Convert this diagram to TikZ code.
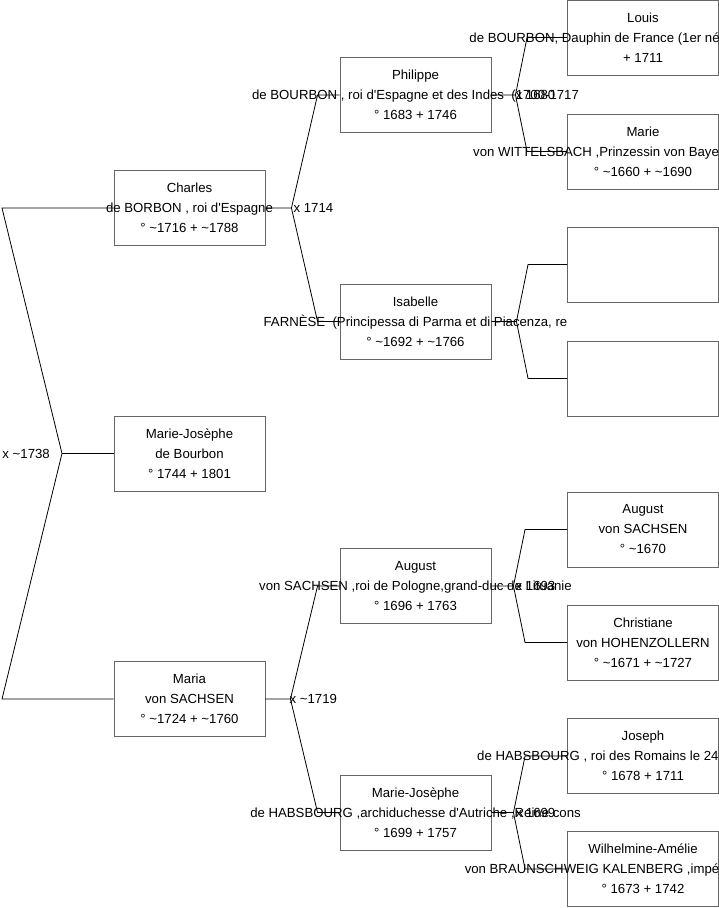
\documentclass[tikz,border=0pt]{standalone}
\usepackage{fontspec}
\setmainfont{Liberation Sans}[Ligatures=TeXOff]
\usetikzlibrary{positioning,calc}
\newcommand{\tline}[1]{\makebox[0pt]{#1}}
\newcommand{\ca}{\textasciitilde}

\begin{document}
\begin{tikzpicture}[x=1pt,y=-1pt,
  pers/.style={draw=black!60,line width=0.9pt,minimum width=151pt,minimum height=75pt,
    inner sep=0pt,align=center,font=\fontsize{13.2}{20}\selectfont},
  mar/.style={anchor=west,inner sep=0pt,font=\fontsize{13.2}{16}\selectfont},
  ed/.style={line width=0.8pt}]
  \useasboundingbox (0,0) rectangle (719,908);
  \node[pers] (charles) at (189.5,208) {\tline{Charles}\\\tline{de BORBON , roi d'Espagne}\\\tline{° \ca1716 + \ca1788}};
  \node[pers] (mjb) at (189.5,453.5) {\tline{Marie-Josèphe}\\\tline{de Bourbon}\\\tline{° 1744 + 1801}};
  \node[pers] (maria) at (189.5,699) {\tline{Maria}\\\tline{von SACHSEN}\\\tline{° \ca1724 + \ca1760}};
  \node[pers] (philippe) at (415.5,95) {\tline{Philippe}\\\tline{de BOURBON , roi d'Espagne et des Indes\ \ (1700-1717}\\\tline{° 1683 + 1746}};
  \node[pers] (isabelle) at (415.5,321.5) {\tline{Isabelle}\\\tline{FARNÈSE\ \ (Principessa di Parma et di Piacenza, re}\\\tline{° \ca1692 + \ca1766}};
  \node[pers] (august) at (415.5,586) {\tline{August}\\\tline{von SACHSEN ,roi de Pologne,grand-duc de Lituanie}\\\tline{° 1696 + 1763}};
  \node[pers] (mjh) at (415.5,812.5) {\tline{Marie-Josèphe}\\\tline{de HABSBOURG ,archiduchesse d'Autriche ,Reine cons}\\\tline{° 1699 + 1757}};
  \node[pers] (louis) at (643,37.5) {\tline{Louis}\\\tline{de BOURBON, Dauphin de France (1er né du roi Louis XIV}\\\tline{+ 1711}};
  \node[pers] (marie) at (643,151.5) {\tline{Marie}\\\tline{von WITTELSBACH ,Prinzessin von Bayern ,Dauphine de}\\\tline{° \ca1660 + \ca1690}};
  \node[pers] (e1) at (643,264.5) {};
  \node[pers] (e2) at (643,378.5) {};
  \node[pers] (augold) at (643,529.5) {\tline{August}\\\tline{von SACHSEN}\\\tline{° \ca1670}};
  \node[pers] (christ) at (643,642.5) {\tline{Christiane}\\\tline{von HOHENZOLLERN}\\\tline{° \ca1671 + \ca1727}};
  \node[pers] (joseph) at (643,756) {\tline{Joseph}\\\tline{de HABSBOURG , roi des Romains le 24 janvier 1690, e}\\\tline{° 1678 + 1711}};
  \node[pers] (wilh) at (643,869) {\tline{Wilhelmine-Amélie}\\\tline{von BRAUNSCHWEIG KALENBERG ,impératrice du Saint-E}\\\tline{° 1673 + 1742}};
  \coordinate (r0) at (2,208);
  \coordinate (r1) at (62,453.5);
  \coordinate (r2) at (2,699);
  \draw[ed] (charles.west) -- (r0) -- (r1) -- (r2) -- (maria.west);
  \draw[ed] (r1) -- (mjb.west);
  \node[mar,anchor=east] (m0) at ([xshift=-12pt]r1) {x \ca1738};
  \draw[ed] (charles.east) -- ++(26,0) coordinate (f1) -- ([xshift=-22pt]philippe.west) -- (philippe.west);
  \draw[ed] (f1) -- ([xshift=-22pt]isabelle.west) -- (isabelle.west);
  \node[mar] (m1) at ([xshift=2pt]f1) {x 1714};
  \draw[ed] (maria.east) -- ++(25,0) coordinate (f2) -- ([xshift=-22pt]august.west) -- (august.west);
  \draw[ed] (f2) -- ([xshift=-22pt]mjh.west) -- (mjh.west);
  \node[mar] (m2) at ([xshift=-1pt]f2) {x \ca1719};
  \draw[ed] (philippe.east) -- ++(24,0) coordinate (f3) -- ([xshift=-40pt]louis.west) -- (louis.west);
  \draw[ed] (f3) -- ([xshift=-40pt]marie.west) -- (marie.west);
  \node[mar] (m3) at (f3) {x 1680};
  \draw[ed] (isabelle.east) -- ++(25,0) coordinate (f4) -- ([xshift=-39pt]e1.west) -- (e1.west);
  \draw[ed] (f4) -- ([xshift=-39pt]e2.west) -- (e2.west);
  \draw[ed] (august.east) -- ++(22,0) coordinate (f5) -- ([xshift=-42pt]augold.west) -- (augold.west);
  \draw[ed] (f5) -- ([xshift=-42pt]christ.west) -- (christ.west);
  \node[mar] (m5) at ([xshift=2pt]f5) {x 1693};
  \draw[ed] (mjh.east) -- ++(22,0) coordinate (f6) -- ([xshift=-42pt]joseph.west) -- (joseph.west);
  \draw[ed] (f6) -- ([xshift=-42pt]wilh.west) -- (wilh.west);
  \node[mar] (m6) at ([xshift=2pt]f6) {x 1699};
\end{tikzpicture}
\end{document}
